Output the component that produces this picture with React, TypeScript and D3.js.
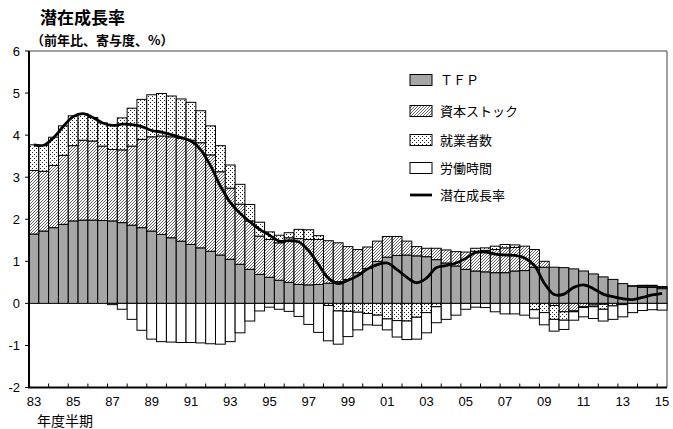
import * as d3 from "d3";
import { useEffect, useRef } from "react";

// half-year periods (fiscal year, first / second half)
const periods = [
  "83上", "83下", "84上", "84下", "85上", "85下", "86上", "86下", "87上", "87下",
  "88上", "88下", "89上", "89下", "90上", "90下", "91上", "91下", "92上", "92下",
  "93上", "93下", "94上", "94下", "95上", "95下", "96上", "96下", "97上", "97下",
  "98上", "98下", "99上", "99下", "00上", "00下", "01上", "01下", "02上", "02下",
  "03上", "03下", "04上", "04下", "05上", "05下", "06上", "06下", "07上", "07下",
  "08上", "08下", "09上", "09下", "10上", "10下", "11上", "11下", "12上", "12下",
  "13上", "13下", "14上", "14下", "15上",
];

const tfp = [
  1.65, 1.72, 1.8, 1.88, 1.96, 1.98, 1.98, 1.97, 1.96, 1.92,
  1.86, 1.8, 1.72, 1.64, 1.56, 1.48, 1.4, 1.32, 1.24, 1.15,
  1.05, 0.93, 0.81, 0.69, 0.62, 0.55, 0.5, 0.45, 0.44, 0.45,
  0.48, 0.52, 0.57, 0.73, 0.83, 1.0, 1.1, 1.14, 1.15, 1.13,
  1.11, 1.04, 0.96, 0.89, 0.81, 0.77, 0.75, 0.73, 0.73, 0.77,
  0.78, 0.86, 0.86, 0.86, 0.85, 0.82, 0.77, 0.7, 0.63, 0.57,
  0.47, 0.41, 0.38, 0.38, 0.35,
];

const capital = [
  1.51, 1.42, 1.48, 1.64, 1.79, 1.9, 1.88, 1.77, 1.7, 1.73,
  1.88, 2.1, 2.24, 2.34, 2.4, 2.44, 2.48, 2.5, 2.29, 1.98,
  1.69, 1.43, 1.15, 0.91, 0.9, 0.89, 1.06, 1.09, 1.08, 1.07,
  1.01, 0.92, 0.78, 0.55, 0.51, 0.48, 0.49, 0.45, 0.33, 0.22,
  0.2, 0.27, 0.31, 0.34, 0.41, 0.47, 0.51, 0.55, 0.59, 0.56,
  0.58, 0.42, 0.14, -0.05, -0.2, -0.18, -0.08, -0.04, -0.02, 0,
  0, 0.01, 0.03, 0.03, 0.03,
];

const labor = [
  0.61, 0.61, 0.67, 0.7, 0.71, 0.63, 0.56, 0.55, 0.59, 0.76,
  0.9, 0.95, 1.0, 1.01, 0.97, 0.94, 0.9, 0.76, 0.69, 0.62,
  0.55, 0.47, 0.39, 0.33, 0.18, 0.18, 0.12, 0.22, 0.23, 0.09,
  -0.05, -0.18, -0.19, -0.21, -0.24, -0.28, -0.37, -0.41, -0.42, -0.33,
  -0.22, -0.08, 0, 0, 0, 0.07, 0.06, 0.08, 0.08, 0.06,
  0, -0.15, -0.22, -0.33, -0.2, -0.02, -0.02, -0.04, -0.12, -0.06,
  -0.03, 0, 0.02, 0.02, 0.02,
];

const hours = [
  0, 0, 0, 0, 0, 0, 0, 0, -0.03, -0.14,
  -0.38, -0.64, -0.85, -0.91, -0.92, -0.93, -0.93, -0.94, -0.96, -0.97,
  -0.91, -0.7, -0.42, -0.18, -0.09, -0.14, -0.19, -0.31, -0.5, -0.69,
  -0.84, -0.79, -0.6, -0.42, -0.27, -0.24, -0.26, -0.39, -0.44, -0.52,
  -0.48, -0.38, -0.38, -0.28, -0.14, -0.09, -0.1, -0.2, -0.25, -0.25,
  -0.28, -0.2, -0.29, -0.28, -0.22, -0.2, -0.22, -0.28, -0.28, -0.32,
  -0.29, -0.22, -0.17, -0.15, -0.16,
];

const potential = [
  3.77, 3.76, 3.94, 4.21, 4.44, 4.51, 4.42, 4.29, 4.23, 4.26,
  4.25, 4.2, 4.11, 4.07, 4.01, 3.94, 3.86, 3.65, 3.27, 2.79,
  2.4, 2.14, 1.94, 1.76, 1.62, 1.48, 1.49, 1.46, 1.25, 0.92,
  0.6, 0.47, 0.55, 0.66, 0.82, 0.92, 0.96, 0.8, 0.62, 0.49,
  0.6, 0.85, 0.9, 0.96, 1.07, 1.21, 1.22, 1.17, 1.15, 1.14,
  1.08, 0.9, 0.48, 0.21, 0.22, 0.38, 0.44, 0.35, 0.22, 0.16,
  0.11, 0.09, 0.14, 0.2, 0.24,
];

const yTicks = [-2, -1, 0, 1, 2, 3, 4, 5, 6];
const xTickLabels = ["83", "85", "87", "89", "91", "93", "95", "97", "99", "01", "03", "05", "07", "09", "11", "13", "15"];

const seriesNames = ["ＴＦＰ", "資本ストック", "就業者数", "労働時間"];
const lineName = "潜在成長率";

const NUM_FONT = "'Liberation Sans', Arial, sans-serif";
const JP_FONT = "'Noto Sans CJK JP', sans-serif";

export default function App() {
  const svgRef = useRef<SVGSVGElement | null>(null);

  useEffect(() => {
    document.body.style.margin = "0";
    if (!svgRef.current) return;
    const svg = d3.select(svgRef.current);
    svg.selectAll("*").remove();

    const left = 29;
    const right = 667;
    const top = 51;
    const bottom = 387.5;

    const x = d3.scaleBand<string>().domain(periods).range([left, right]).padding(0);
    const y = d3.scaleLinear().domain([-2, 6]).range([bottom, top]);

    // fill patterns
    const defs = svg.append("defs");
    const hatch = defs
      .append("pattern")
      .attr("id", "hatch")
      .attr("patternUnits", "userSpaceOnUse")
      .attr("width", 3)
      .attr("height", 3);
    hatch.append("rect").attr("width", 3).attr("height", 3).attr("fill", "#fff");
    hatch
      .append("path")
      .attr("d", "M-1,1 l2,-2 M0,3 l3,-3 M2,4 l2,-2")
      .attr("stroke", "#333")
      .attr("stroke-width", 0.75);

    const dots = defs
      .append("pattern")
      .attr("id", "dots")
      .attr("patternUnits", "userSpaceOnUse")
      .attr("width", 4)
      .attr("height", 4);
    dots.append("rect").attr("width", 4).attr("height", 4).attr("fill", "#fff");
    dots.append("rect").attr("x", 0).attr("y", 0).attr("width", 1).attr("height", 1).attr("fill", "#222");
    dots.append("rect").attr("x", 2).attr("y", 2).attr("width", 1).attr("height", 1).attr("fill", "#222");

    const fills = ["#a6a6a6", "url(#hatch)", "url(#dots)", "#ffffff"];

    const rows = periods.map((p, i) => ({
      period: p,
      tfp: tfp[i],
      capital: capital[i],
      labor: labor[i],
      hours: hours[i],
    }));
    const keys = ["tfp", "capital", "labor", "hours"];
    const stacked = d3.stack<(typeof rows)[number]>().keys(keys).offset(d3.stackOffsetDiverging)(rows);

    // plot frame (top/right)
    svg
      .append("path")
      .attr("d", `M${left},${top}H${right}V${bottom}`)
      .attr("fill", "none")
      .attr("stroke", "#444")
      .attr("stroke-width", 1);

    const barG = svg.append("g");
    stacked.forEach((layer, li) => {
      barG
        .append("g")
        .selectAll("rect")
        .data(layer)
        .join("rect")
        .attr("x", (d) => x(d.data.period) ?? 0)
        .attr("width", x.bandwidth())
        .attr("y", (d) => y(Math.max(d[0], d[1])))
        .attr("height", (d) => Math.abs(y(d[0]) - y(d[1])))
        .attr("fill", fills[li])
        .attr("stroke", "#000")
        .attr("stroke-width", 1);
    });

    // potential growth line
    const line = d3
      .line<number>()
      .x((_, i) => (x(periods[i]) ?? 0) + x.bandwidth() / 2)
      .y((d) => y(d))
      .curve(d3.curveCatmullRom.alpha(0.5));
    svg
      .append("path")
      .datum(potential)
      .attr("d", line)
      .attr("fill", "none")
      .attr("stroke", "#000")
      .attr("stroke-width", 2.8);

    // axes
    svg
      .append("line")
      .attr("x1", left)
      .attr("x2", left)
      .attr("y1", top)
      .attr("y2", bottom)
      .attr("stroke", "#000")
      .attr("stroke-width", 2);
    svg
      .append("line")
      .attr("x1", left - 1)
      .attr("x2", right)
      .attr("y1", bottom)
      .attr("y2", bottom)
      .attr("stroke", "#000")
      .attr("stroke-width", 2);

    const yAxis = svg.append("g");
    yTicks.forEach((t) => {
      yAxis
        .append("line")
        .attr("x1", left - 4)
        .attr("x2", left)
        .attr("y1", y(t))
        .attr("y2", y(t))
        .attr("stroke", "#000")
        .attr("stroke-width", 1);
      yAxis
        .append("text")
        .attr("x", 20)
        .attr("y", y(t))
        .attr("dy", "0.36em")
        .attr("text-anchor", "end")
        .attr("font-family", NUM_FONT)
        .attr("font-size", 13)
        .text(t);
    });

    const xAxis = svg.append("g");
    periods.forEach((p) => {
      if (!p.endsWith("上")) return;
      const px = x(p) ?? 0;
      xAxis
        .append("line")
        .attr("x1", px)
        .attr("x2", px)
        .attr("y1", bottom - 4)
        .attr("y2", bottom)
        .attr("stroke", "#000")
        .attr("stroke-width", 1);
    });
    xTickLabels.forEach((lab) => {
      const px = (x(`${lab}上`) ?? 0) + x.bandwidth() / 2;
      xAxis
        .append("text")
        .attr("x", px)
        .attr("y", 406)
        .attr("text-anchor", "middle")
        .attr("font-family", NUM_FONT)
        .attr("font-size", 13)
        .text(lab);
    });

    svg
      .append("text")
      .attr("x", 37)
      .attr("y", 426)
      .attr("font-family", JP_FONT)
      .attr("font-size", 14)
      .text("年度半期");

    svg
      .append("text")
      .attr("x", 40)
      .attr("y", 24)
      .attr("font-family", JP_FONT)
      .attr("font-size", 17)
      .attr("font-weight", 700)
      .text("潜在成長率");
    svg
      .append("text")
      .attr("x", 31)
      .attr("y", 45)
      .attr("font-family", JP_FONT)
      .attr("font-size", 13)
      .attr("font-weight", 700)
      .text("（前年比、寄与度、%）");

    // legend
    const legend = svg.append("g").attr("transform", "translate(410,0)");
    const legendY = [80, 111, 140, 168];
    seriesNames.forEach((name, i) => {
      legend
        .append("rect")
        .attr("x", 0)
        .attr("y", legendY[i] - 5.5)
        .attr("width", 22)
        .attr("height", 11)
        .attr("fill", fills[i])
        .attr("stroke", "#000")
        .attr("stroke-width", 1);
      legend
        .append("text")
        .attr("x", 30)
        .attr("y", legendY[i])
        .attr("dy", "0.36em")
        .attr("font-family", JP_FONT)
        .attr("font-size", 13)
        .text(name);
    });
    legend
      .append("line")
      .attr("x1", 0)
      .attr("x2", 22)
      .attr("y1", 195)
      .attr("y2", 195)
      .attr("stroke", "#000")
      .attr("stroke-width", 2.8);
    legend
      .append("text")
      .attr("x", 30)
      .attr("y", 195)
      .attr("dy", "0.36em")
      .attr("font-family", JP_FONT)
      .attr("font-size", 13)
      .text(lineName);
  }, []);

  return (
    <svg
      ref={svgRef}
      width={673}
      height={429}
      style={{ display: "block", background: "#fff" }}
      role="img"
      aria-label="潜在成長率"
    />
  );
}
